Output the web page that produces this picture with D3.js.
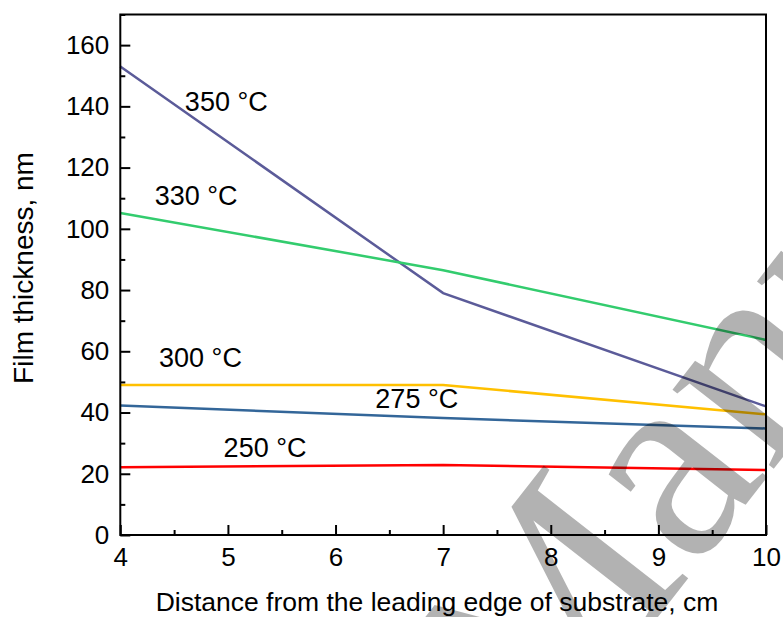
<!DOCTYPE html>
<html>
<head>
<meta charset="utf-8">
<script src="https://cdn.jsdelivr.net/npm/d3@7"></script>
<style>
  html, body { margin: 0; padding: 0; background: #fff; }
  svg { display: block; font-family: "Liberation Sans", Arial, sans-serif; }
</style>
</head>
<body>
<svg id="chart" width="783" height="617"></svg>
<script>
// data
const distances = [4, 7, 10];
const seriesNames = ['350 °C', '330 °C', '300 °C', '275 °C', '250 °C'];
const t350 = [153, 79, 42];
const t330 = [105.2, 86.5, 63.7];
const t300 = [49, 49, 39.4];
const t275 = [42.3, 38.2, 34.8];
const t250 = [22.1, 22.9, 21.2];
const xTicks = [4, 5, 6, 7, 8, 9, 10];
const yTicks = [0, 20, 40, 60, 80, 100, 120, 140, 160];

const colors = ['#5b5b99', '#33cc6e', '#ffc000', '#336699', '#ff0000'];
const allSeries = [t350, t330, t300, t275, t250];
// label anchor in data units (left / baseline)
const labelPos = [[4.60, 138.5], [4.32, 107.8], [4.36, 54.9], [6.37, 41.5], [4.96, 25.5]];

const config = {
  left: 120.3, right: 766, top: 14.5, bottom: 535,
  tickFont: 26,
  labelFont: 27,
  stroke: 2
};

const svg = d3.select('#chart');

const x = d3.scaleLinear().domain([4, 10]).range([config.left, config.right]);
const y = d3.scaleLinear().domain([0, 170]).range([config.bottom, config.top]);

// series lines
const line = d3.line()
  .x((d, i) => x(distances[i]))
  .y(d => y(d));

svg.selectAll('.series')
  .data(allSeries)
  .enter()
  .append('path')
  .attr('class', 'series')
  .attr('d', d => line(d))
  .attr('fill', 'none')
  .attr('stroke', (d, i) => colors[i])
  .attr('stroke-width', 2.5);

// series labels
svg.selectAll('.label')
  .data(seriesNames)
  .enter()
  .append('text')
  .attr('class', 'label')
  .attr('x', (d, i) => x(labelPos[i][0]))
  .attr('y', (d, i) => y(labelPos[i][1]))
  .attr('font-size', config.labelFont)
  .text(d => d);

// minor ticks
const xMinor = xTicks.slice(0, -1).map(v => v + 0.5);
const yMinor = yTicks.map(v => v + 10);

svg.append('g')
  .attr('transform', `translate(0,${config.bottom})`)
  .call(d3.axisBottom(x).tickValues(xMinor).tickSize(-5).tickFormat(''))
  .call(g => g.select('.domain').remove())
  .selectAll('line').attr('stroke', '#000').attr('stroke-width', config.stroke);

svg.append('g')
  .attr('transform', `translate(${config.left},0)`)
  .call(d3.axisLeft(y).tickValues(yMinor).tickSize(-5).tickFormat(''))
  .call(g => g.select('.domain').remove())
  .selectAll('line').attr('stroke', '#000').attr('stroke-width', config.stroke);

// major ticks
const xAxis = svg.append('g')
  .attr('transform', `translate(0,${config.bottom})`)
  .call(d3.axisBottom(x).tickValues(xTicks).tickSize(-10).tickPadding(13).tickFormat(d3.format('d')));
xAxis.select('.domain').remove();
xAxis.selectAll('line').attr('stroke', '#000').attr('stroke-width', config.stroke);
xAxis.selectAll('text')
  .attr('font-size', config.tickFont)
  .attr('font-family', '"Liberation Sans", Arial, sans-serif')
  .attr('fill', '#000')
  .attr('dy', '0.71em');

const yAxis = svg.append('g')
  .attr('transform', `translate(${config.left},0)`)
  .call(d3.axisLeft(y).tickValues(yTicks).tickSize(-10).tickPadding(11).tickFormat(d3.format('d')));
yAxis.select('.domain').remove();
yAxis.selectAll('line').attr('stroke', '#000').attr('stroke-width', config.stroke);
yAxis.selectAll('text')
  .attr('font-size', config.tickFont)
  .attr('font-family', '"Liberation Sans", Arial, sans-serif')
  .attr('fill', '#000');

// frame
svg.append('rect')
  .attr('x', config.left)
  .attr('y', config.top)
  .attr('width', config.right - config.left)
  .attr('height', config.bottom - config.top)
  .attr('fill', 'none')
  .attr('stroke', '#000')
  .attr('stroke-width', config.stroke);

// axis titles
svg.append('text')
  .attr('x', 437)
  .attr('y', 611)
  .attr('text-anchor', 'middle')
  .attr('font-size', 26.5)
  .text('Distance from the leading edge of substrate, cm');

svg.append('text')
  .attr('transform', 'translate(33,268) rotate(-90)')
  .attr('text-anchor', 'middle')
  .attr('font-size', 28)
  .text('Film thickness, nm');

// watermark
svg.append('text')
  .attr('transform', 'translate(540,768) rotate(-52)')
  .attr('font-family', '"Liberation Serif", "Times New Roman", serif')
  .attr('font-size', 280)
  .attr('fill', '#000')
  .attr('fill-opacity', 0.3)
  .text('Manuscript');
</script>
</body>
</html>
